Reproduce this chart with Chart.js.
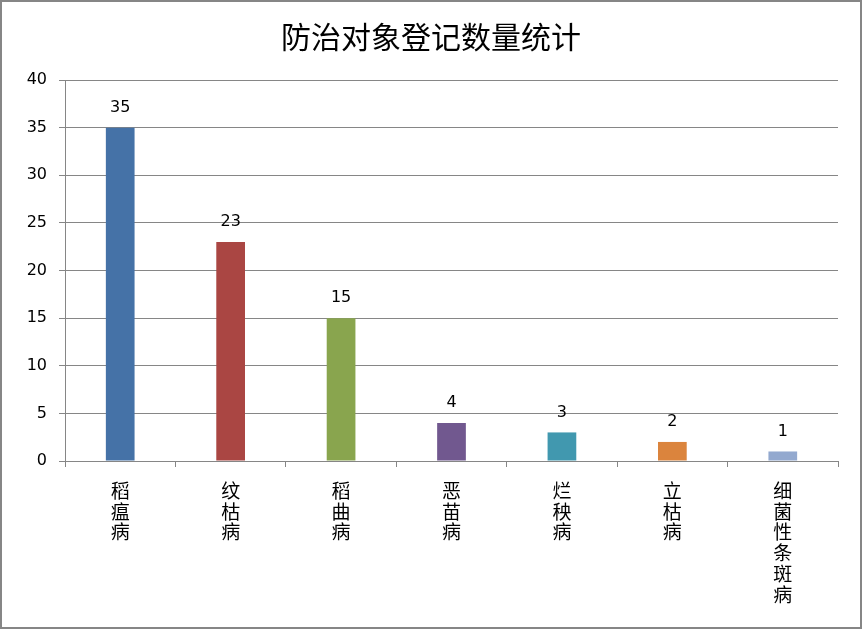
<!DOCTYPE html>
<html>
<head>
<meta charset="utf-8">
<script src="https://cdn.jsdelivr.net/npm/chart.js@4"></script>
<style>
  html, body { margin: 0; padding: 0; background: #fff; }
  #wrap { width: 862px; height: 629px; }
</style>
</head>
<body>
<div id="wrap"><canvas id="bar_chart" width="862" height="629"></canvas></div>
<script>
// chart data
const categories = ['稻瘟病', '纹枯病', '稻曲病', '恶苗病', '烂秧病', '立枯病', '细菌性条斑病'];
const counts = [35, 23, 15, 4, 3, 2, 1];
const bar_colors = ['#4572A7', '#AA4643', '#89A54E', '#71588F', '#4198AF', '#DB843D', '#93A9CF'];
const chart_title = '防治对象登记数量统计';

const num_font = 'DejaVu Sans';
const cjk_font = '"Noto Sans CJK SC"';

// value labels over each bar
const valueLabels = {
  id: 'valueLabels',
  afterDatasetsDraw(chart) {
    const ctx = chart.ctx;
    const meta = chart.getDatasetMeta(0);
    ctx.save();
    ctx.font = '16px ' + num_font;
    ctx.fillStyle = '#000';
    ctx.textAlign = 'center';
    ctx.textBaseline = 'middle';
    meta.data.forEach((bar, i) => {
      ctx.fillText(String(counts[i]), bar.x, bar.y - 20);
    });
    ctx.restore();
  }
};

// grey frame round the whole picture
const outerFrame = {
  id: 'outerFrame',
  afterDraw(chart) {
    const ctx = chart.ctx;
    ctx.save();
    ctx.strokeStyle = '#868686';
    ctx.lineWidth = 2;
    ctx.strokeRect(1, 1, chart.width - 2, chart.height - 2);
    ctx.restore();
  }
};

const config = {
  type: 'bar',
  data: {
    labels: categories.map(c => c.split('')),
    datasets: [{
      data: counts,
      backgroundColor: bar_colors,
      borderWidth: 0,
      categoryPercentage: 1,
      barPercentage: 0.26
    }]
  },
  options: {
    responsive: false,
    animation: false,
    layout: { padding: { top: 0, left: 12, right: 12, bottom: 0 } },
    plugins: {
      legend: { display: false },
      tooltip: { enabled: false },
      title: {
        display: true,
        text: chart_title,
        color: '#000',
        font: { family: cjk_font, size: 30, weight: 'normal', lineHeight: 1.2 },
        padding: { top: 19, bottom: 25 }
      }
    },
    scales: {
      y: {
        min: 0,
        max: 40,
        afterFit(scale) { scale.width = 53; },
        ticks: {
          stepSize: 5,
          color: '#000',
          padding: 12,
          font: { family: num_font, size: 16 }
        },
        grid: { color: '#868686', lineWidth: 1, tickLength: 6 },
        border: { color: '#868686', width: 1 }
      },
      // empty right-hand spacer so the plot ends short of the frame
      spacer: {
        type: 'linear',
        position: 'right',
        min: 0,
        max: 40,
        afterFit(scale) { scale.width = 12; },
        ticks: { display: false },
        grid: { drawOnChartArea: false, drawTicks: false },
        border: { display: false }
      },
      x: {
        afterFit(scale) { scale.height = 629 - 461; },
        ticks: {
          color: '#000',
          padding: 13,
          maxRotation: 0,
          autoSkip: false,
          font: { family: cjk_font, size: 19, lineHeight: 1.1 }
        },
        grid: { offset: true, drawOnChartArea: false, drawTicks: true, tickLength: 6, color: '#868686' },
        border: { color: '#868686', width: 1 }
      }
    }
  },
  plugins: [valueLabels, outerFrame]
};

const myChart = new Chart(document.getElementById('bar_chart'), config);
</script>
</body>
</html>
